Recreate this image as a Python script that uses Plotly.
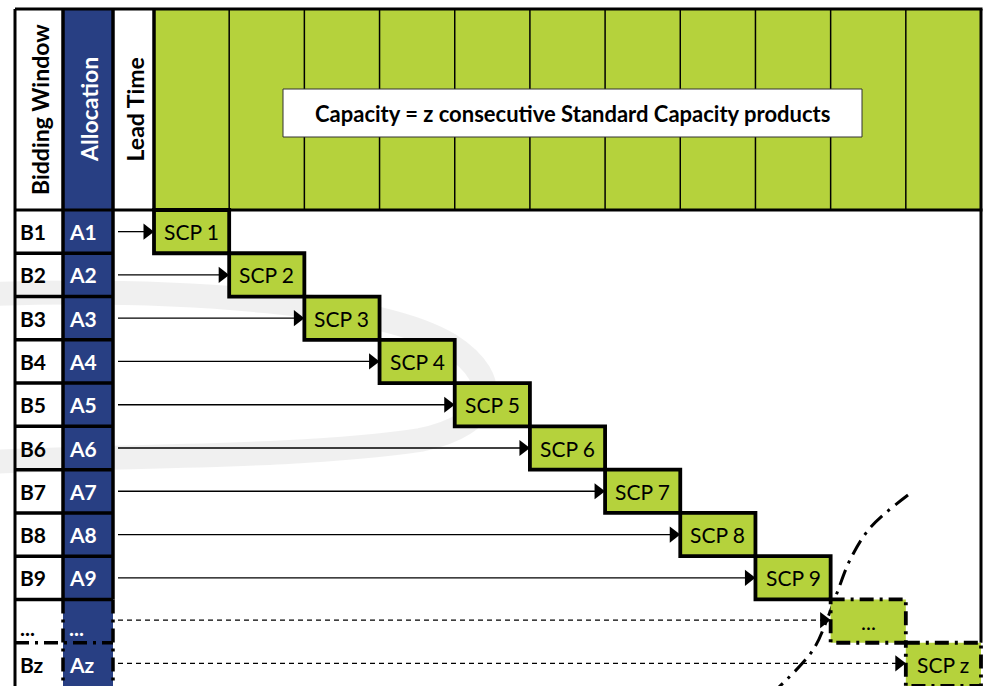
import plotly.graph_objects as go

# ---- data ----
bidding_windows = ["B1", "B2", "B3", "B4", "B5", "B6", "B7", "B8", "B9", "...", "Bz"]
allocations = ["A1", "A2", "A3", "A4", "A5", "A6", "A7", "A8", "A9", "...", "Az"]
products = ["SCP 1", "SCP 2", "SCP 3", "SCP 4", "SCP 5", "SCP 6", "SCP 7", "SCP 8", "SCP 9", "...", "SCP z"]
header_labels = ["Bidding Window", "Allocation", "Lead Time"]
capacity_label = "Capacity = z consecutive Standard Capacity products"
continuation_rows = [9, 10]   # rows drawn with broken lines
curve_x = [908, 870, 850, 837, 828, 813, 778]
curve_y = [495, 528, 560, 593, 617, 650, 688]

# ---- geometry ----
W, H = 984, 686
X0, XB, XA, XL, XR = 15, 63, 113, 154, 981
YT, YH, YBOT = 9, 210, 686
NCOL = len(products)
NROW = len(bidding_windows)
COLW = (XR - XL) / NCOL
ROWH = (YBOT - YH) / NROW

GREEN = "#b5d23c"
BLUE = "#283f83"
BLACK = "#000000"
FONT = "Lato"
FS = 21
DASHDOT = "14px,6px,3px,6px"

shapes = []
annotations = []


def rect(x0, y0, x1, y1, fill=None, lw=0, dash="solid", color=BLACK, layer="above"):
    shapes.append(dict(type="rect", xref="x", yref="y", x0=x0, y0=y0, x1=x1, y1=y1,
                       fillcolor=fill if fill else "rgba(0,0,0,0)",
                       line=dict(width=lw, color=color, dash=dash), layer=layer))


def line(x0, y0, x1, y1, lw=3, dash="solid", color=BLACK):
    shapes.append(dict(type="line", xref="x", yref="y", x0=x0, y0=y0, x1=x1, y1=y1,
                       line=dict(width=lw, color=color, dash=dash), layer="above"))


# faint watermark swoosh
shapes.append(dict(type="path", xref="x", yref="y",
                   path="M -10,294 C 180,288 380,302 450,345 C 505,380 495,425 420,440 C 300,458 120,455 -10,462",
                   line=dict(width=24, color="rgba(0,0,0,0.06)"), layer="below"))

# fills
rect(XA - 50, YT, XA, YBOT, fill=BLUE, layer="below")
rect(XL, YT, XR, YH, fill=GREEN, layer="below")

# header thin column separators
for c in range(1, NCOL):
    x = XL + c * COLW
    line(x, YT, x, YH, lw=1.5)

# capacity label box
rect(283, 89, 862, 137, fill="white", lw=1, color="#333333")
annotations.append(dict(x=(283 + 862) / 2, y=113, xref="x", yref="y", text="<b>" + capacity_label + "</b>",
                        showarrow=False, font=dict(family=FONT, size=22, color=BLACK)))

# header vertical labels
header_x = [(X0 + XB) / 2, (XB + XA) / 2, (XA + XL) / 2]
header_colors = [BLACK, "white", BLACK]
for lab, hx, hc in zip(header_labels, header_x, header_colors):
    annotations.append(dict(x=hx + 1, y=110, xref="x", yref="y", text="<b>" + lab + "</b>", textangle=-90,
                            showarrow=False, font=dict(family=FONT, size=23, color=hc)))

# outer frame
line(X0, YT, XR + 1.5, YT, lw=3)
line(X0, YT, X0, YBOT, lw=3)
line(XR, YT, XR, YH + (NROW - 1) * ROWH, lw=3)
line(X0, YH, XR + 1.5, YH, lw=3)
line(XL, YT, XL, YH, lw=3.5)

# column lines for B / A
y_solid_end = YH + continuation_rows[0] * ROWH
line(XB, YT, XB, y_solid_end, lw=3.5)
line(XA, YT, XA, y_solid_end, lw=3.5)
line(XB, y_solid_end, XB, YBOT, lw=3.5, dash=DASHDOT)
line(XA, y_solid_end, XA, YBOT, lw=3.5, dash=DASHDOT)

# row separators
for r in range(1, NROW):
    y = YH + r * ROWH
    dash = DASHDOT if r > continuation_rows[0] else "solid"
    line(X0, y, XA, y, lw=3.5, dash=dash)

# rows: labels, arrows, product boxes
head_x, head_y = [], []
for r in range(NROW):
    yc = YH + (r + 0.5) * ROWH
    bx0 = XL + r * COLW
    bx1 = bx0 + COLW
    y0 = YH + r * ROWH
    y1 = y0 + ROWH
    broken = r in continuation_rows
    rect(bx0, y0, bx1, y1, fill=GREEN, lw=3.8,
         dash=DASHDOT if broken else "solid")
    annotations.append(dict(x=(bx0 + bx1) / 2, y=yc, xref="x", yref="y", text=products[r],
                            showarrow=False, font=dict(family=FONT, size=FS, color=BLACK)))
    lab_y = yc + (6 if bidding_windows[r] == "..." else 0)
    annotations.append(dict(x=X0 + 3, y=lab_y, xref="x", yref="y", text="<b>" + bidding_windows[r] + "</b>",
                            xanchor="left", showarrow=False, font=dict(family=FONT, size=FS, color=BLACK)))
    annotations.append(dict(x=XB + 4, y=lab_y, xref="x", yref="y", text="<b>" + allocations[r] + "</b>",
                            xanchor="left", showarrow=False, font=dict(family=FONT, size=FS, color="white")))
    ay = yc - 1 if broken else yc
    line(XA + 5, ay, bx0 - 8, ay, lw=1.3, dash="5px,4px" if broken else "solid")
    head_x.append(bx0 - 7)
    head_y.append(ay)

fig = go.Figure()
fig.add_trace(go.Scatter(x=head_x, y=head_y, mode="markers", hoverinfo="skip",
                         marker=dict(symbol="triangle-right", size=14, color=BLACK, line=dict(width=0))))
fig.add_trace(go.Scatter(x=curve_x, y=curve_y, mode="lines", hoverinfo="skip",
                         line=dict(shape="spline", color=BLACK, width=3, dash="16px,7px,3px,7px")))

fig.update_layout(
    width=W, height=H, margin=dict(l=0, r=0, t=0, b=0),
    paper_bgcolor="white", plot_bgcolor="white", showlegend=False,
    xaxis=dict(range=[0, W], visible=False, fixedrange=True),
    yaxis=dict(range=[H, 0], visible=False, fixedrange=True),
    shapes=shapes, annotations=annotations,
)
fig.write_html("out.html", config={"displayModeBar": False},
               post_script="document.body.style.margin='0';document.body.style.overflow='hidden';")
